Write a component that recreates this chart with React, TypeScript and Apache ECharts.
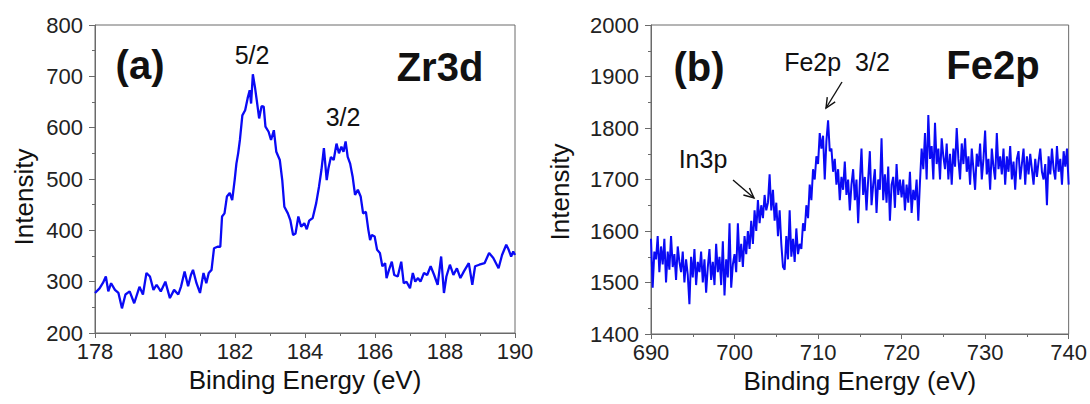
import React, { useEffect, useRef } from "react";
import * as echarts from "echarts";

// ---------- Panel (a): Zr3d ----------
const zrEnergy = [
  178.0, 178.13, 178.23, 178.31, 178.38, 178.46, 178.57, 178.67, 178.77, 178.87,
  178.99, 179.12, 179.27, 179.37, 179.47, 179.57, 179.67, 179.76, 179.88, 180.01,
  180.14, 180.26, 180.38, 180.46, 180.56, 180.66, 180.74, 180.8, 180.9, 181.0,
  181.1, 181.18, 181.25, 181.33, 181.4, 181.5, 181.58, 181.63, 181.7, 181.77,
  181.85, 181.92, 181.99, 182.04, 182.09, 182.14, 182.21, 182.29, 182.36, 182.42,
  182.46, 182.51, 182.57, 182.62, 182.69, 182.76, 182.82, 182.87, 182.96, 183.03,
  183.11, 183.18, 183.28, 183.35, 183.41, 183.51, 183.58, 183.66, 183.73, 183.81,
  183.89, 183.98, 184.05, 184.12, 184.22, 184.32, 184.4, 184.47, 184.54, 184.62,
  184.67, 184.74, 184.82, 184.9, 184.97, 185.04, 185.1, 185.16, 185.22, 185.29,
  185.36, 185.43, 185.51, 185.59, 185.66, 185.74, 185.81, 185.86, 185.91, 185.99,
  186.06, 186.14, 186.21, 186.29, 186.33, 186.4, 186.48, 186.55, 186.65, 186.75,
  186.82, 186.9, 187.0, 187.08, 187.15, 187.23, 187.3, 187.4, 187.49, 187.59,
  187.69, 187.79, 187.89, 187.97, 188.04, 188.14, 188.24, 188.34, 188.44, 188.54,
  188.68, 188.78, 188.86, 188.98, 189.13, 189.26, 189.38, 189.53, 189.63, 189.75,
  189.82, 189.89, 189.95, 190.0,
];
const zrIntensity = [
  278, 287, 298, 310, 281, 297, 284, 278, 248, 275,
  281, 258, 290, 275, 317, 310, 284, 294, 281, 300,
  268, 284, 275, 291, 320, 291, 313, 323, 297, 278,
  317, 297, 317, 323, 365, 368, 368, 427, 433, 466,
  473, 459, 498, 530, 550, 576, 624, 634, 657, 673,
  647, 704, 679, 654, 618, 642, 641, 602, 592, 576,
  595, 553, 537, 498, 446, 433, 420, 391, 394, 427,
  407, 414, 402, 419, 424, 453, 485, 518, 560, 498,
  521, 543, 537, 569, 550, 563, 553, 573, 543, 530,
  505, 469, 479, 466, 433, 436, 401, 381, 391, 388,
  362, 356, 330, 336, 307, 323, 339, 313, 310, 339,
  297, 300, 287, 317, 300, 307, 300, 317, 313, 330,
  313, 294, 349, 278, 310, 333, 313, 326, 307, 320,
  336, 294, 330, 333, 336, 356, 346, 326, 352, 372,
  362, 349, 359, 352,
];

// ---------- Panel (b): Fe2p (sampled every 0.2 eV from 690 eV) ----------
const feStartEnergy = 690;
const feStepEnergy = 0.2;
const feIntensity = [
  1585, 1490, 1560, 1545, 1590, 1520, 1570, 1535, 1585, 1500,
  1560, 1525, 1590, 1530, 1555, 1505, 1570, 1540, 1520, 1560,
  1500, 1545, 1515, 1458, 1550, 1510, 1565, 1495, 1540, 1520,
  1560, 1500, 1545, 1480, 1530, 1565, 1505, 1540, 1495, 1575,
  1520, 1550, 1495, 1580, 1475, 1545, 1510, 1615, 1490, 1535,
  1555, 1520, 1615, 1540, 1575, 1530, 1590, 1555, 1600, 1565,
  1620, 1575, 1640, 1600, 1660, 1615, 1650, 1625, 1670, 1640,
  1655, 1710, 1640, 1680, 1620, 1655, 1590, 1640, 1575, 1530,
  1525, 1590, 1545, 1640, 1550, 1585, 1540, 1605, 1555, 1575,
  1565, 1615, 1600, 1650, 1625, 1690, 1660, 1720, 1700, 1745,
  1730, 1790, 1760, 1785, 1700, 1775, 1815, 1755, 1760, 1715,
  1740, 1690, 1720, 1660, 1705, 1680, 1735, 1670, 1700, 1640,
  1690, 1720, 1660, 1700, 1615, 1695, 1760, 1670, 1705, 1640,
  1700, 1755, 1650, 1690, 1720, 1635, 1700, 1680, 1780, 1660,
  1710, 1655, 1725, 1620, 1690, 1705, 1645, 1730, 1670, 1700,
  1665, 1700, 1640, 1690, 1655, 1715, 1635, 1680, 1660, 1700,
  1620, 1695, 1760, 1720, 1790, 1700, 1825, 1740, 1765, 1700,
  1810, 1730, 1760, 1700, 1780, 1745, 1720, 1770, 1700, 1750,
  1690, 1760, 1725, 1800, 1740, 1700, 1770, 1730, 1780, 1715,
  1745, 1690, 1760, 1720, 1680, 1750, 1725, 1770, 1700, 1740,
  1795, 1710, 1740, 1680, 1760, 1725, 1700, 1790, 1720, 1745,
  1710, 1760, 1690, 1745, 1715, 1765, 1700, 1735, 1680, 1740,
  1755, 1700, 1730, 1760, 1690, 1745, 1710, 1750, 1720, 1690,
  1740, 1705, 1735, 1760, 1715, 1700, 1730, 1650, 1745, 1710,
  1760, 1720, 1700, 1765, 1715, 1740, 1690, 1755, 1725, 1760,
  1690,
];

const xTitle = "Binding Energy (eV)";
const yTitle = "Intensity";

const FONT = '"Liberation Sans", Arial, Helvetica, sans-serif';
const AXIS_COLOR = "#6a6a6a";
const TEXT_COLOR = "#111";
const LINE_COLOR = "#0a0af5";

function xAxisCfg(gridIndex: number, min: number, max: number, interval: number) {
  return {
    type: "value",
    gridIndex,
    min,
    max,
    interval,
    name: xTitle,
    nameLocation: "middle",
    nameGap: 34,
    nameTextStyle: { fontSize: 26, color: TEXT_COLOR, fontFamily: FONT },
    axisLine: { show: true, onZero: false, lineStyle: { color: AXIS_COLOR, width: 1 } },
    axisTick: { show: true, length: 5, lineStyle: { color: AXIS_COLOR } },
    minorTick: { show: true, splitNumber: 2, length: 3, lineStyle: { color: AXIS_COLOR } },
    splitLine: { show: false },
    minorSplitLine: { show: false },
    axisLabel: { fontSize: 22, color: "#222", fontFamily: FONT, margin: 7, formatter: (v: number) => String(v) },
  };
}

function yAxisCfg(gridIndex: number, min: number, max: number, interval: number) {
  return {
    type: "value",
    gridIndex,
    min,
    max,
    interval,
    axisLine: { show: true, onZero: false, lineStyle: { color: AXIS_COLOR, width: 1 } },
    axisTick: { show: true, length: 6, lineStyle: { color: AXIS_COLOR } },
    minorTick: { show: true, splitNumber: 2, length: 3, lineStyle: { color: AXIS_COLOR } },
    splitLine: { show: false },
    minorSplitLine: { show: false },
    axisLabel: { fontSize: 22, color: "#222", fontFamily: FONT, margin: 12, formatter: (v: number) => String(v) },
  };
}

function label(text: string, x: number, y: number, size: number, bold = false, rotation = 0) {
  return {
    type: "text",
    x,
    y,
    rotation,
    silent: true,
    style: {
      text,
      fontSize: size,
      fontWeight: bold ? "bold" : "normal",
      fontFamily: FONT,
      fill: TEXT_COLOR,
      align: "center",
      verticalAlign: "middle",
    },
  };
}

function arrow(x1: number, y1: number, x2: number, y2: number) {
  const dx = x2 - x1;
  const dy = y2 - y1;
  const len = Math.sqrt(dx * dx + dy * dy);
  const bx = -dx / len;
  const by = -dy / len;
  const a = (25 * Math.PI) / 180;
  const L = 11;
  const w1 = [x2 + L * (bx * Math.cos(a) - by * Math.sin(a)), y2 + L * (bx * Math.sin(a) + by * Math.cos(a))];
  const w2 = [x2 + L * (bx * Math.cos(a) + by * Math.sin(a)), y2 + L * (-bx * Math.sin(a) + by * Math.cos(a))];
  return [
    { type: "line", silent: true, shape: { x1, y1, x2, y2 }, style: { stroke: TEXT_COLOR, lineWidth: 1.4 } },
    { type: "polyline", silent: true, shape: { points: [w1, [x2, y2], w2] }, style: { stroke: TEXT_COLOR, lineWidth: 1.4, fill: "none" } },
  ];
}

export default function App() {
  const ref = useRef<HTMLDivElement>(null);

  useEffect(() => {
    document.body.style.margin = "0";
    if (!ref.current) return;
    const chart = echarts.init(ref.current, null, { renderer: "svg" });

    const zrData = zrEnergy.map((e, i) => [e, zrIntensity[i]]);
    const feData = feIntensity.map((v, i) => [
      Math.round((feStartEnergy + i * feStepEnergy) * 100) / 100,
      v,
    ]);

    chart.setOption({
      animation: false,
      backgroundColor: "#ffffff",
      grid: [
        { left: 95, top: 25, width: 420, height: 308, show: true, borderColor: AXIS_COLOR, borderWidth: 1, backgroundColor: "transparent" },
        { left: 651, top: 25, width: 418, height: 309, show: true, borderColor: AXIS_COLOR, borderWidth: 1, backgroundColor: "transparent" },
      ],
      xAxis: [xAxisCfg(0, 178, 190, 2), xAxisCfg(1, 690, 740, 10)],
      yAxis: [yAxisCfg(0, 200, 800, 100), yAxisCfg(1, 1400, 2000, 100)],
      series: [
        {
          type: "line",
          xAxisIndex: 0,
          yAxisIndex: 0,
          data: zrData,
          showSymbol: false,
          lineStyle: { color: LINE_COLOR, width: 2.3 },
        },
        {
          type: "line",
          xAxisIndex: 1,
          yAxisIndex: 1,
          data: feData,
          showSymbol: false,
          lineStyle: { color: LINE_COLOR, width: 2 },
        },
      ],
      graphic: [
        label(yTitle, 24, 197, 26, false, Math.PI / 2),
        label(yTitle, 560, 192, 26, false, Math.PI / 2),
        label("(a)", 140, 65, 40, true),
        label("5/2", 252, 55, 25),
        label("3/2", 343, 117, 25),
        label("Zr3d", 440, 67, 40, true),
        label("(b)", 699, 67, 40, true),
        label("Fe2p  3/2", 837, 62, 25),
        label("Fe2p", 993, 65, 40, true),
        label("In3p", 703, 159, 25),
        ...arrow(842, 82, 826, 108),
        ...arrow(733, 180, 754, 198),
      ],
    });

    return () => {
      chart.dispose();
    };
  }, []);

  return <div ref={ref} style={{ width: 1090, height: 404 }} />;
}
